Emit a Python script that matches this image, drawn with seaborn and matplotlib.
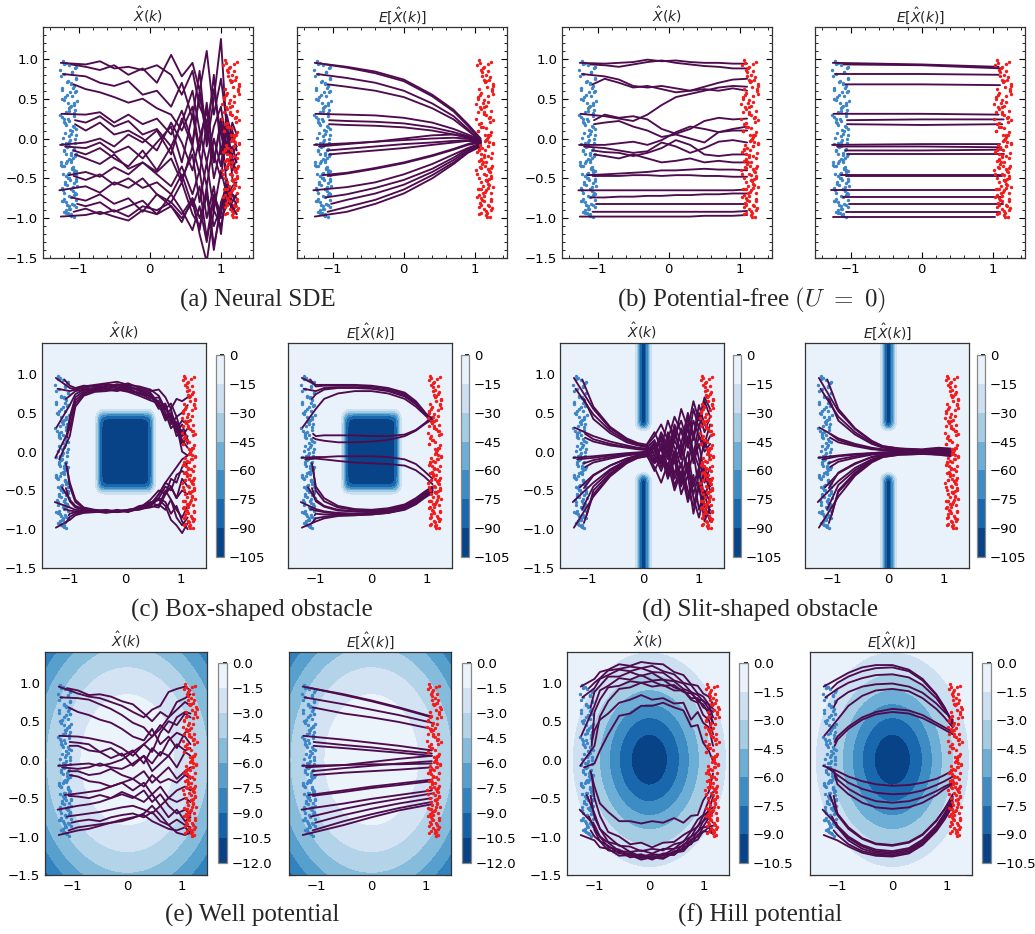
import numpy as np
import pandas as pd
import matplotlib
matplotlib.use("Agg")
import matplotlib.pyplot as plt
from matplotlib.ticker import MultipleLocator
import seaborn as sns

# start points of the 18 runs (same in every panel)
start_x = [-1.25, -1.10, -1.22, -1.07, -1.24, -1.05, -1.05, -1.26, -1.19,
           -1.07, -1.05, -1.14, -1.07, -1.27, -1.10, -1.02, -1.07, -1.25]
start_y = [0.95, 0.93, 0.81, 0.68, 0.31, 0.23, 0.18, -0.08, -0.10,
           -0.15, -0.20, -0.46, -0.47, -0.65, -0.74, -0.82, -0.92, -0.98]

# initial samples (blue) and target samples (red)
blue_x = [-1.22, -1.13, -1.05, -1.18, -1.09, -1.25, -1.03, -1.15, -1.20, -1.07,
          -1.11, -1.24, -1.04, -1.16, -1.08, -1.21, -1.12, -1.06, -1.19, -1.14,
          -1.02, -1.17, -1.10, -1.23, -1.05, -1.13, -1.26, -1.08, -1.15, -1.03,
          -1.19, -1.11, -1.06, -1.22, -1.09, -1.14, -1.04, -1.18, -1.12, -1.07,
          -1.24, -1.10, -1.16, -1.05, -1.20, -1.13, -1.03, -1.17, -1.08, -1.21,
          -1.11, -1.06, -1.25, -1.14, -1.09, -1.18, -1.04, -1.12, -1.22, -1.07,
          -1.15, -1.02, -1.19, -1.10, -1.16, -1.05, -1.23, -1.13, -1.08, -1.20,
          -1.04, -1.17, -1.11, -1.06, -1.24, -1.14, -1.09, -1.21, -1.03, -1.12,
          -1.18, -1.07, -1.15, -1.10, -1.26, -1.05, -1.13, -1.19, -1.08, -1.16,
          -1.04, -1.22, -1.11, -1.06, -1.17, -1.09, -1.14, -1.20, -1.03, -1.12,
          -1.21, -1.09, -1.16, -1.04, -1.23, -1.12, -1.07, -1.18, -1.14, -1.05,
          -1.20, -1.10, -1.25, -1.08, -1.15, -1.03, -1.19, -1.11, -1.06, -1.22,
          -1.13, -1.17, -1.04, -1.24, -1.09, -1.15, -1.07, -1.20, -1.12, -1.05,
          -1.18, -1.10, -1.23, -1.06, -1.14, -1.08, -1.21, -1.03, -1.16, -1.11]
blue_y = [0.97, 0.92, 0.88, 0.95, 0.84, 0.78, 0.90, 0.72, 0.81, 0.66,
          0.69, 0.61, 0.75, 0.55, 0.63, 0.48, 0.58, 0.44, 0.52, 0.38,
          0.47, 0.33, 0.41, 0.27, 0.36, 0.22, 0.30, 0.16, 0.25, 0.12,
          0.19, 0.06, 0.14, 0.01, 0.09, -0.04, 0.04, -0.09, -0.02, -0.13,
          -0.07, -0.18, -0.11, -0.22, -0.16, -0.26, -0.20, -0.31, -0.24, -0.35,
          -0.29, -0.39, -0.33, -0.43, -0.37, -0.47, -0.41, -0.52, -0.45, -0.56,
          -0.50, -0.60, -0.54, -0.64, -0.58, -0.68, -0.62, -0.72, -0.66, -0.76,
          -0.70, -0.80, -0.74, -0.84, -0.78, -0.88, -0.82, -0.92, -0.86, -0.96,
          -0.90, -0.99, -0.94, -0.97, 0.86, 0.59, 0.35, 0.07, -0.15, -0.28,
          -0.46, -0.65, 0.70, 0.42, -0.05, -0.38, -0.10, 0.21, -0.53, -0.88,
          0.93, 0.83, 0.71, 0.60, 0.50, 0.39, 0.28, 0.17, 0.03, -0.06,
          -0.14, -0.21, -0.30, -0.36, -0.44, -0.51, -0.57, -0.63, -0.71, -0.79,
          -0.85, -0.93, 0.76, 0.64, 0.53, 0.45, 0.32, 0.24, 0.11, -0.01,
          -0.19, -0.27, -0.34, -0.42, -0.49, -0.61, -0.69, -0.77, -0.83, -0.95]
red_x = [1.05, 1.18, 1.12, 1.23, 1.08, 1.15, 1.03, 1.20, 1.10, 1.25,
         1.14, 1.06, 1.21, 1.09, 1.17, 1.04, 1.24, 1.11, 1.19, 1.07,
         1.13, 1.22, 1.02, 1.16, 1.09, 1.26, 1.12, 1.05, 1.20, 1.15,
         1.08, 1.23, 1.11, 1.18, 1.04, 1.14, 1.21, 1.07, 1.17, 1.10,
         1.25, 1.03, 1.19, 1.13, 1.06, 1.22, 1.09, 1.16, 1.12, 1.24,
         1.05, 1.18, 1.10, 1.21, 1.07, 1.15, 1.02, 1.20, 1.13, 1.08,
         1.23, 1.11, 1.17, 1.04, 1.19, 1.14, 1.25, 1.06, 1.16, 1.09,
         1.22, 1.12, 1.03, 1.18, 1.10, 1.24, 1.07, 1.15, 1.20, 1.05,
         1.13, 1.21, 1.08, 1.17, 1.11, 1.26, 1.04, 1.19, 1.14, 1.09,
         1.23, 1.06, 1.16, 1.12, 1.20, 1.08, 1.18, 1.02, 1.15, 1.22,
         1.07, 1.19, 1.12, 1.24, 1.04, 1.16, 1.21, 1.09, 1.14, 1.25,
         1.06, 1.18, 1.11, 1.22, 1.03, 1.15, 1.20, 1.08, 1.13, 1.23,
         1.05, 1.17, 1.10, 1.26, 1.07, 1.19, 1.12, 1.21, 1.04, 1.16,
         1.24, 1.09, 1.14, 1.20, 1.06, 1.18, 1.11, 1.23, 1.08, 1.15]
red_y = [0.98, 0.94, 0.90, 0.96, 0.86, 0.80, 0.92, 0.74, 0.83, 0.68,
         0.71, 0.62, 0.77, 0.57, 0.65, 0.50, 0.60, 0.45, 0.54, 0.40,
         0.48, 0.34, 0.43, 0.29, 0.37, 0.23, 0.31, 0.18, 0.26, 0.13,
         0.20, 0.08, 0.15, 0.02, 0.10, -0.03, 0.05, -0.08, -0.01, -0.12,
         -0.06, -0.17, -0.10, -0.21, -0.15, -0.25, -0.19, -0.30, -0.23, -0.34,
         -0.28, -0.38, -0.32, -0.42, -0.36, -0.46, -0.40, -0.51, -0.44, -0.55,
         -0.49, -0.59, -0.53, -0.63, -0.57, -0.67, -0.61, -0.71, -0.65, -0.75,
         -0.69, -0.79, -0.73, -0.83, -0.77, -0.87, -0.81, -0.91, -0.85, -0.95,
         -0.89, -0.98, -0.93, -0.99, 0.88, 0.56, 0.33, 0.05, -0.14, -0.27,
         -0.47, -0.64, 0.72, 0.39, -0.04, -0.37, -0.09, 0.24, -0.52, -0.90,
         0.95, 0.85, 0.73, 0.62, 0.52, 0.41, 0.27, 0.15, 0.04, -0.07,
         -0.13, -0.22, -0.29, -0.37, -0.45, -0.52, -0.58, -0.64, -0.72, -0.78,
         -0.86, -0.94, 0.78, 0.66, 0.55, 0.46, 0.33, 0.21, 0.10, -0.02,
         -0.18, -0.26, -0.35, -0.41, -0.50, -0.62, -0.68, -0.76, -0.84, -0.96]

# (a) neural SDE, sampled runs
neural_grid = [-0.9, -0.7, -0.5, -0.3, -0.1, 0.1, 0.3, 0.45, 0.6, 0.7, 0.8, 0.9, 1.0, 1.08, 1.16, 1.22]
neural_paths = [
    [0.93, 0.97, 0.88, 0.90, 0.86, 0.92, 0.80, 0.55, 0.85, 0.40, 0.20, 0.62, 0.05, -0.20, 0.10, -0.15],
    [0.90, 0.86, 0.92, 0.80, 0.88, 0.70, 1.05, 0.78, 0.95, 0.60, 1.10, 0.30, 0.75, 0.20, -0.30, -0.20],
    [0.78, 0.70, 0.66, 0.72, 0.55, 0.60, 0.40, 0.70, 0.25, 0.85, -0.10, 0.50, 1.25, 0.10, -0.40, -0.25],
    [0.62, 0.58, 0.52, 0.45, 0.50, 0.38, 0.30, 0.10, 0.40, -0.15, 0.45, -0.30, 0.20, -0.60, -0.70, -0.85],
    [0.30, 0.33, 0.20, 0.30, 0.18, 0.25, 0.05, 0.35, -0.05, 0.55, 0.00, 0.80, -0.20, 0.30, 0.00, -0.10],
    [0.20, 0.28, 0.15, 0.22, 0.05, 0.12, -0.10, 0.20, 0.60, 0.10, -0.30, 0.15, 0.40, -0.10, 0.20, 0.05],
    [0.10, 0.20, 0.05, 0.10, 0.00, -0.15, 0.20, -0.05, -0.40, 0.00, 0.35, -0.20, -0.50, 0.10, -0.30, -0.40],
    [-0.05, 0.00, -0.10, 0.05, -0.05, 0.10, -0.20, 0.25, -0.10, 0.60, 0.15, -0.30, 0.25, -0.20, -0.10, -0.30],
    [-0.12, -0.05, -0.18, -0.10, -0.25, -0.05, 0.15, -0.30, 0.30, -0.20, -0.60, 0.00, -0.35, 0.25, -0.50, -0.60],
    [-0.20, -0.12, -0.25, -0.35, -0.15, -0.40, -0.10, -0.50, -0.20, -0.80, -0.30, -0.90, -0.40, -0.70, -0.90, -0.80],
    [-0.25, -0.32, -0.20, -0.38, -0.30, -0.45, -0.60, -0.35, -0.70, -0.40, -1.00, -0.60, -1.20, -0.55, -0.85, -0.95],
    [-0.42, -0.48, -0.36, -0.45, -0.30, -0.42, -0.25, -0.55, -0.10, -0.45, 0.20, -0.50, -0.10, -0.40, -0.20, -0.10],
    [-0.52, -0.45, -0.58, -0.50, -0.62, -0.55, -0.70, -0.45, -0.85, -0.60, -1.25, -0.70, -0.95, -0.50, -0.80, -0.70],
    [-0.60, -0.68, -0.55, -0.62, -0.50, -0.70, -0.80, -0.55, -0.95, -1.10, -0.70, -1.40, -0.80, -0.60, -0.90, -0.85],
    [-0.78, -0.70, -0.82, -0.75, -0.92, -0.70, -0.85, -1.05, -0.75, -1.20, -1.55, -0.90, -1.10, -0.75, -0.60, -0.55],
    [-0.85, -0.80, -0.92, -0.85, -0.78, -0.95, -0.70, -0.90, -1.15, -0.85, -1.30, -0.75, -1.00, -0.85, -0.70, -0.75],
    [-0.88, -0.95, -0.90, -0.98, -0.85, -0.90, -0.80, -0.95, -0.75, -1.00, -0.70, -1.10, -0.85, -0.65, -0.90, -0.95],
    [-0.96, -0.92, -0.98, -1.03, -0.90, -0.95, -0.85, -1.00, -0.80, -1.15, -0.60, -1.35, -0.90, -0.70, -0.90, -0.80],
]
# (a) neural SDE, mean runs
neural_mean_grid = [-0.8, -0.4, 0.0, 0.4, 0.7, 0.9, 1.08]
neural_mean_paths = [
    [0.90, 0.84, 0.74, 0.55, 0.36, 0.18, 0.00],
    [0.89, 0.82, 0.72, 0.53, 0.34, 0.16, -0.02],
    [0.76, 0.70, 0.60, 0.44, 0.28, 0.12, -0.04],
    [0.65, 0.60, 0.52, 0.38, 0.24, 0.10, -0.03],
    [0.30, 0.29, 0.26, 0.20, 0.12, 0.05, -0.02],
    [0.22, 0.21, 0.19, 0.14, 0.08, 0.03, -0.04],
    [0.17, 0.16, 0.14, 0.10, 0.05, 0.01, -0.05],
    [-0.06, -0.04, -0.02, 0.00, 0.01, 0.00, -0.05],
    [-0.07, -0.04, 0.00, 0.04, 0.05, 0.02, -0.03],
    [-0.13, -0.10, -0.07, -0.05, -0.03, -0.02, -0.06],
    [-0.18, -0.15, -0.12, -0.08, -0.05, -0.03, -0.07],
    [-0.43, -0.37, -0.30, -0.21, -0.13, -0.07, -0.04],
    [-0.44, -0.38, -0.31, -0.22, -0.14, -0.08, -0.05],
    [-0.61, -0.55, -0.45, -0.32, -0.20, -0.12, -0.06],
    [-0.70, -0.62, -0.52, -0.38, -0.24, -0.13, -0.07],
    [-0.77, -0.69, -0.58, -0.42, -0.27, -0.15, -0.08],
    [-0.86, -0.77, -0.64, -0.46, -0.30, -0.17, -0.09],
    [-0.92, -0.82, -0.69, -0.50, -0.32, -0.18, -0.10],
]

# (b) potential-free, sampled runs
free_grid = [-0.9, -0.7, -0.5, -0.3, -0.1, 0.1, 0.3, 0.5, 0.7, 0.9, 1.1]
free_paths = [
    [0.94, 0.95, 0.96, 0.99, 0.97, 0.98, 0.96, 0.95, 0.95, 0.94, 0.94],
    [0.92, 0.90, 0.93, 0.96, 0.98, 0.95, 0.93, 0.91, 0.90, 0.88, 0.88],
    [0.78, 0.74, 0.66, 0.64, 0.66, 0.63, 0.60, 0.62, 0.60, 0.63, 0.60],
    [0.75, 0.70, 0.64, 0.66, 0.62, 0.58, 0.60, 0.65, 0.70, 0.74, 0.75],
    [0.28, 0.25, 0.22, 0.30, 0.42, 0.52, 0.56, 0.60, 0.64, 0.66, 0.65],
    [0.30, 0.26, 0.28, 0.24, 0.12, 0.06, 0.12, 0.22, 0.26, 0.24, 0.25],
    [0.20, 0.22, 0.15, 0.10, 0.02, 0.05, 0.00, -0.05, 0.08, 0.12, 0.15],
    [-0.08, -0.06, -0.04, -0.08, -0.02, 0.08, 0.15, 0.12, 0.08, 0.10, 0.10],
    [-0.12, -0.15, -0.18, -0.16, -0.05, -0.10, -0.18, -0.12, -0.04, -0.02, -0.05],
    [-0.17, -0.18, -0.22, -0.18, -0.12, -0.02, -0.08, -0.20, -0.22, -0.20, -0.20],
    [-0.22, -0.25, -0.20, -0.25, -0.30, -0.28, -0.25, -0.30, -0.28, -0.30, -0.30],
    [-0.45, -0.44, -0.43, -0.42, -0.40, -0.40, -0.39, -0.38, -0.39, -0.39, -0.40],
    [-0.47, -0.47, -0.46, -0.46, -0.47, -0.46, -0.46, -0.47, -0.47, -0.48, -0.48],
    [-0.65, -0.65, -0.65, -0.65, -0.65, -0.65, -0.65, -0.65, -0.65, -0.65, -0.64],
    [-0.74, -0.73, -0.73, -0.72, -0.72, -0.71, -0.71, -0.70, -0.70, -0.69, -0.69],
    [-0.82, -0.82, -0.82, -0.82, -0.82, -0.82, -0.82, -0.82, -0.82, -0.82, -0.82],
    [-0.92, -0.92, -0.92, -0.92, -0.92, -0.92, -0.92, -0.92, -0.92, -0.92, -0.91],
    [-0.98, -0.98, -0.98, -0.98, -0.98, -0.98, -0.98, -0.97, -0.97, -0.97, -0.96],
]
# (b) potential-free, mean runs: value at x=0 and end point
free_mean_mid_y = [0.93, 0.92, 0.81, 0.68, 0.31, 0.24, 0.17, -0.07, -0.10,
                   -0.15, -0.20, -0.46, -0.47, -0.65, -0.74, -0.82, -0.92, -0.98]
free_mean_end_x = [1.08, 1.12, 1.08, 1.10, 1.08, 1.15, 1.13, 1.10, 1.12,
                   1.14, 1.16, 1.14, 1.12, 1.08, 1.12, 1.14, 1.10, 1.03]
free_mean_end_y = [0.90, 0.88, 0.80, 0.67, 0.30, 0.24, 0.18, -0.07, -0.11,
                   -0.14, -0.20, -0.46, -0.47, -0.65, -0.74, -0.82, -0.92, -0.98]

# (c) box obstacle
box_grid = [-1.0, -0.9, -0.75, -0.55, -0.35, -0.15, 0.05, 0.25, 0.45, 0.6, 0.72, 0.82, 0.92, 1.02, 1.12]
box_paths = [
    [0.82, 0.80, 0.84, 0.86, 0.88, 0.90, 0.86, 0.84, 0.80, 0.72, 0.55, 0.62, 0.45, 0.50, 0.60],
    [0.85, 0.82, 0.85, 0.84, 0.87, 0.85, 0.88, 0.82, 0.78, 0.80, 0.70, 0.55, 0.68, 0.65, 0.70],
    [0.78, 0.80, 0.82, 0.85, 0.83, 0.87, 0.84, 0.80, 0.76, 0.62, 0.40, 0.48, 0.30, 0.40, 0.35],
    [0.72, 0.78, 0.80, 0.82, 0.85, 0.82, 0.85, 0.78, 0.74, 0.55, 0.60, 0.35, 0.45, 0.20, 0.30],
    [0.60, 0.74, 0.80, 0.82, 0.80, 0.85, 0.82, 0.80, 0.70, 0.65, 0.45, 0.55, 0.25, 0.35, 0.15],
    [0.45, 0.70, 0.78, 0.80, 0.84, 0.82, 0.80, 0.76, 0.72, 0.58, 0.62, 0.40, 0.30, 0.10, 0.20],
    [0.40, 0.66, 0.76, 0.79, 0.81, 0.80, 0.78, 0.75, 0.68, 0.70, 0.50, 0.30, 0.38, 0.15, 0.05],
    [0.30, 0.62, 0.74, 0.78, 0.80, 0.78, 0.82, 0.74, 0.72, 0.60, 0.55, 0.45, 0.20, 0.28, 0.10],
    [0.20, 0.58, 0.72, 0.77, 0.78, 0.80, 0.77, 0.72, 0.66, 0.62, 0.42, 0.50, 0.35, 0.00, -0.05],
    [-0.40, -0.62, -0.72, -0.75, -0.76, -0.78, -0.76, -0.74, -0.70, -0.55, -0.40, -0.30, -0.20, -0.10, -0.05],
    [-0.45, -0.65, -0.73, -0.76, -0.78, -0.76, -0.78, -0.72, -0.66, -0.60, -0.45, -0.50, -0.30, -0.25, -0.30],
    [-0.62, -0.70, -0.74, -0.77, -0.75, -0.77, -0.75, -0.73, -0.62, -0.50, -0.55, -0.35, -0.40, -0.20, -0.15],
    [-0.64, -0.72, -0.75, -0.76, -0.78, -0.75, -0.77, -0.70, -0.68, -0.55, -0.40, -0.45, -0.60, -0.50, -0.55],
    [-0.72, -0.75, -0.76, -0.78, -0.76, -0.78, -0.76, -0.72, -0.65, -0.70, -0.50, -0.62, -0.75, -0.85, -0.70],
    [-0.76, -0.77, -0.78, -0.77, -0.79, -0.77, -0.75, -0.73, -0.70, -0.60, -0.65, -0.80, -0.70, -0.90, -1.00],
    [-0.80, -0.78, -0.77, -0.78, -0.77, -0.76, -0.77, -0.74, -0.72, -0.68, -0.75, -0.62, -0.85, -0.95, -0.85],
    [-0.84, -0.80, -0.78, -0.77, -0.78, -0.77, -0.76, -0.75, -0.70, -0.72, -0.55, -0.45, -0.60, -0.35, -0.45],
    [-0.88, -0.82, -0.79, -0.78, -0.76, -0.78, -0.75, -0.74, -0.68, -0.62, -0.70, -0.88, -0.95, -1.05, -0.92],
]
box_mean_grid = [-1.0, -0.85, -0.6, -0.3, 0.0, 0.3, 0.6, 0.8, 0.95, 1.1]
box_mean_paths = [
    [0.86, 0.86, 0.86, 0.86, 0.85, 0.82, 0.76, 0.65, 0.52, 0.35],
    [0.84, 0.85, 0.85, 0.85, 0.84, 0.81, 0.74, 0.63, 0.50, 0.38],
    [0.78, 0.82, 0.83, 0.83, 0.82, 0.79, 0.72, 0.62, 0.50, 0.40],
    [0.74, 0.80, 0.82, 0.82, 0.81, 0.78, 0.71, 0.61, 0.51, 0.42],
    [0.55, 0.68, 0.75, 0.78, 0.78, 0.75, 0.68, 0.58, 0.48, 0.38],
    [0.20, 0.21, 0.21, 0.21, 0.20, 0.20, 0.22, 0.28, 0.36, 0.45],
    [0.16, 0.14, 0.12, 0.12, 0.13, 0.15, 0.20, 0.27, 0.35, 0.42],
    [-0.07, -0.07, -0.06, -0.06, -0.06, -0.07, -0.10, -0.16, -0.25, -0.35],
    [-0.09, -0.10, -0.12, -0.14, -0.15, -0.16, -0.18, -0.24, -0.32, -0.42],
    [-0.45, -0.60, -0.70, -0.74, -0.75, -0.73, -0.68, -0.60, -0.52, -0.45],
    [-0.50, -0.64, -0.72, -0.75, -0.76, -0.74, -0.69, -0.61, -0.53, -0.46],
    [-0.62, -0.70, -0.75, -0.77, -0.77, -0.75, -0.70, -0.62, -0.55, -0.48],
    [-0.64, -0.71, -0.76, -0.77, -0.77, -0.75, -0.70, -0.63, -0.56, -0.50],
    [-0.74, -0.77, -0.79, -0.80, -0.79, -0.77, -0.72, -0.65, -0.57, -0.48],
    [-0.76, -0.78, -0.80, -0.80, -0.79, -0.77, -0.72, -0.64, -0.56, -0.47],
    [-0.80, -0.81, -0.81, -0.81, -0.80, -0.78, -0.73, -0.66, -0.58, -0.50],
    [-0.86, -0.84, -0.82, -0.82, -0.81, -0.79, -0.74, -0.67, -0.59, -0.52],
    [-0.90, -0.86, -0.83, -0.82, -0.81, -0.79, -0.75, -0.68, -0.60, -0.53],
]

# (d) slit obstacle
slit_grid = [-0.9, -0.6, -0.3, -0.1, 0.05, 0.2, 0.32, 0.44, 0.56, 0.68, 0.8, 0.9, 1.0, 1.1, 1.2]
slit_paths = [
    [0.55, 0.30, 0.16, 0.10, 0.08, 0.25, 0.05, 0.40, 0.15, 0.55, 0.30, 0.65, 0.40, 0.70, 0.55],
    [0.58, 0.32, 0.17, 0.11, 0.09, -0.05, 0.20, 0.00, 0.35, 0.10, 0.50, 0.20, 0.60, 0.35, 0.25],
    [0.48, 0.27, 0.14, 0.09, 0.07, 0.20, 0.35, 0.15, 0.45, 0.25, 0.05, 0.40, 0.20, 0.10, 0.35],
    [0.42, 0.24, 0.12, 0.08, 0.06, -0.10, 0.10, -0.20, 0.15, -0.05, 0.30, 0.00, -0.20, 0.15, -0.10],
    [0.20, 0.13, 0.08, 0.05, 0.04, 0.15, -0.15, 0.10, -0.30, 0.05, -0.20, 0.25, -0.10, -0.40, -0.20],
    [0.16, 0.10, 0.06, 0.04, 0.03, 0.00, 0.25, 0.05, 0.30, -0.10, 0.45, 0.15, 0.50, 0.25, 0.45],
    [0.13, 0.08, 0.05, 0.03, 0.02, -0.15, -0.05, -0.30, 0.00, -0.40, -0.15, -0.55, -0.30, -0.20, -0.45],
    [-0.06, -0.04, -0.02, -0.01, 0.00, 0.12, -0.10, 0.20, -0.05, 0.30, 0.10, -0.10, 0.20, 0.00, 0.10],
    [-0.08, -0.05, -0.03, -0.02, -0.01, -0.12, 0.05, -0.25, -0.05, -0.35, 0.00, -0.45, -0.20, -0.60, -0.35],
    [-0.11, -0.07, -0.04, -0.03, -0.02, 0.05, -0.20, 0.00, -0.45, -0.15, -0.60, -0.30, -0.75, -0.50, -0.65],
    [-0.14, -0.09, -0.05, -0.03, -0.02, -0.25, -0.05, -0.35, -0.10, -0.55, -0.30, -0.80, -0.45, -0.85, -0.75],
    [-0.30, -0.18, -0.09, -0.05, -0.03, 0.10, -0.15, 0.25, 0.05, -0.20, 0.20, -0.05, 0.35, 0.05, 0.20],
    [-0.31, -0.18, -0.09, -0.05, -0.04, -0.20, -0.40, -0.15, -0.50, -0.25, -0.65, -0.40, -0.25, -0.70, -0.90],
    [-0.40, -0.23, -0.11, -0.06, -0.04, 0.00, 0.15, -0.10, 0.20, 0.40, 0.10, 0.55, 0.30, 0.65, 0.45],
    [-0.45, -0.25, -0.12, -0.07, -0.05, -0.15, 0.05, -0.30, -0.10, -0.45, -0.20, -0.60, -0.85, -0.55, -0.80],
    [-0.50, -0.28, -0.13, -0.07, -0.05, 0.08, -0.10, 0.15, -0.15, 0.10, -0.30, 0.00, -0.50, -0.25, -0.40],
    [-0.55, -0.30, -0.14, -0.08, -0.06, -0.05, -0.25, 0.00, -0.35, -0.15, -0.50, -0.70, -0.40, -0.90, -0.70],
    [-0.58, -0.32, -0.15, -0.08, -0.06, 0.05, 0.20, -0.05, 0.25, 0.00, 0.35, -0.15, 0.10, -0.30, -0.50],
]
slit_mean_grid = [-0.9, -0.6, -0.3, -0.1, 0.2, 0.6, 0.9, 1.12]
slit_mean_paths = [
    [0.52, 0.29, 0.13, 0.07, 0.04, 0.03, 0.05, 0.04],
    [0.55, 0.30, 0.14, 0.07, 0.04, 0.02, 0.03, 0.01],
    [0.45, 0.25, 0.11, 0.06, 0.03, 0.02, 0.04, 0.03],
    [0.40, 0.22, 0.10, 0.05, 0.03, 0.01, 0.02, 0.00],
    [0.17, 0.10, 0.05, 0.03, 0.02, 0.01, 0.00, 0.02],
    [0.15, 0.08, 0.04, 0.02, 0.01, 0.00, 0.02, -0.01],
    [0.12, 0.07, 0.03, 0.02, 0.01, 0.00, -0.01, 0.01],
    [-0.05, -0.03, -0.02, -0.01, 0.00, 0.00, 0.01, -0.02],
    [-0.06, -0.04, -0.02, -0.01, -0.01, 0.00, -0.02, 0.00],
    [-0.10, -0.06, -0.03, -0.02, -0.01, -0.01, 0.00, -0.03],
    [-0.13, -0.08, -0.04, -0.02, -0.01, -0.01, -0.02, -0.04],
    [-0.28, -0.16, -0.07, -0.04, -0.02, -0.01, -0.03, -0.02],
    [-0.27, -0.15, -0.07, -0.04, -0.02, -0.02, -0.01, -0.04],
    [-0.38, -0.21, -0.10, -0.05, -0.03, -0.02, -0.03, -0.05],
    [-0.43, -0.24, -0.11, -0.06, -0.03, -0.02, -0.04, -0.03],
    [-0.50, -0.27, -0.12, -0.06, -0.03, -0.02, -0.03, -0.05],
    [-0.52, -0.29, -0.13, -0.07, -0.04, -0.03, -0.02, -0.04],
    [-0.58, -0.31, -0.14, -0.07, -0.04, -0.03, -0.04, -0.06],
]

# (e) well potential
well_grid = [-0.9, -0.7, -0.5, -0.3, -0.1, 0.1, 0.3, 0.45, 0.6, 0.75, 0.9, 1.05, 1.15]
well_paths = [
    [0.86, 0.82, 0.80, 0.75, 0.70, 0.62, 0.55, 0.65, 0.70, 0.88, 0.92, 0.95, 0.90],
    [0.90, 0.84, 0.85, 0.82, 0.76, 0.72, 0.60, 0.50, 0.62, 0.55, 0.75, 0.80, 0.85],
    [0.80, 0.78, 0.72, 0.66, 0.58, 0.48, 0.42, 0.30, 0.45, 0.35, 0.55, 0.62, 0.60],
    [0.62, 0.58, 0.52, 0.48, 0.40, 0.30, 0.25, 0.40, 0.20, 0.30, 0.15, 0.35, 0.40],
    [0.30, 0.28, 0.25, 0.22, 0.15, 0.05, 0.20, 0.10, 0.35, 0.50, 0.45, 0.60, 0.55],
    [0.22, 0.20, 0.10, 0.15, 0.05, 0.12, -0.05, 0.15, 0.05, 0.25, 0.35, 0.30, 0.20],
    [0.18, 0.12, 0.10, 0.02, 0.08, -0.08, 0.05, -0.15, -0.05, 0.05, -0.10, 0.10, 0.05],
    [-0.06, -0.05, -0.08, -0.05, 0.00, 0.10, 0.20, 0.30, 0.40, 0.55, 0.65, 0.75, 0.70],
    [-0.12, -0.10, -0.05, -0.10, -0.12, -0.05, 0.05, -0.05, 0.10, 0.05, 0.20, 0.12, 0.15],
    [-0.15, -0.20, -0.18, -0.12, -0.20, -0.25, -0.15, -0.30, -0.20, -0.10, -0.25, -0.15, -0.10],
    [-0.22, -0.28, -0.30, -0.35, -0.30, -0.40, -0.30, -0.45, -0.35, -0.50, -0.40, -0.35, -0.40],
    [-0.44, -0.42, -0.40, -0.35, -0.30, -0.25, -0.35, -0.20, -0.30, -0.25, -0.30, -0.20, -0.25],
    [-0.48, -0.50, -0.46, -0.50, -0.42, -0.48, -0.55, -0.45, -0.60, -0.50, -0.55, -0.50, -0.55],
    [-0.60, -0.58, -0.55, -0.50, -0.45, -0.50, -0.40, -0.55, -0.45, -0.60, -0.70, -0.65, -0.70],
    [-0.72, -0.70, -0.68, -0.65, -0.62, -0.60, -0.65, -0.70, -0.60, -0.75, -0.65, -0.80, -0.75],
    [-0.80, -0.78, -0.80, -0.75, -0.72, -0.70, -0.75, -0.68, -0.80, -0.85, -0.78, -0.85, -0.88],
    [-0.88, -0.86, -0.84, -0.82, -0.78, -0.75, -0.72, -0.80, -0.85, -0.90, -0.92, -0.88, -0.95],
    [-0.92, -0.90, -0.86, -0.82, -0.80, -0.76, -0.70, -0.60, -0.72, -0.85, -0.95, -0.98, -0.95],
]
well_mean_grid = [-0.5, 0.0, 0.5, 1.1]
well_mean_paths = [
    [0.85, 0.77, 0.68, 0.56], [0.84, 0.76, 0.67, 0.55], [0.72, 0.65, 0.58, 0.48],
    [0.60, 0.55, 0.49, 0.40], [0.26, 0.22, 0.18, 0.12], [0.19, 0.16, 0.12, 0.08],
    [0.15, 0.12, 0.09, 0.05], [-0.07, -0.06, -0.06, -0.05], [-0.07, -0.03, 0.01, 0.05],
    [-0.11, -0.08, -0.05, -0.02], [-0.17, -0.15, -0.13, -0.10], [-0.40, -0.35, -0.31, -0.26],
    [-0.42, -0.37, -0.33, -0.28], [-0.57, -0.51, -0.46, -0.40], [-0.64, -0.57, -0.51, -0.44],
    [-0.72, -0.64, -0.57, -0.50], [-0.80, -0.71, -0.63, -0.55], [-0.85, -0.75, -0.66, -0.58],
]

# (f) hill potential
hill_grid = [-1.0, -0.9, -0.75, -0.55, -0.35, -0.15, 0.05, 0.25, 0.45, 0.62, 0.76, 0.88, 0.98, 1.08, 1.16]
hill_paths = [
    [1.05, 1.14, 1.17, 1.24, 1.22, 1.27, 1.25, 1.24, 1.14, 1.10, 0.98, 0.96, 0.86, 0.82, 0.72],
    [1.00, 1.06, 1.16, 1.18, 1.21, 1.19, 1.22, 1.15, 1.11, 1.00, 0.97, 0.86, 0.82, 0.72, 0.66],
    [0.93, 1.05, 1.10, 1.17, 1.15, 1.19, 1.14, 1.13, 1.03, 0.99, 0.88, 0.84, 0.76, 0.72, 0.55],
    [0.88, 0.96, 1.08, 1.08, 1.14, 1.09, 1.13, 1.04, 1.02, 0.92, 0.88, 0.76, 0.72, 0.60, 0.47],
    [0.70, 0.90, 0.96, 1.06, 1.04, 1.10, 1.03, 1.04, 0.94, 0.90, 0.78, 0.74, 0.58, 0.52, 0.33],
    [0.38, 0.52, 0.60, 0.74, 0.78, 0.84, 0.78, 0.80, 0.73, 0.74, 0.52, 0.62, 0.48, 0.42, 0.18],
    [0.62, 0.78, 0.94, 0.96, 1.02, 1.00, 1.02, 0.96, 0.97, 0.88, 0.86, 0.78, 0.77, 0.66, 0.62],
    [0.18, 0.56, 0.76, 0.92, 0.94, 1.00, 0.95, 0.97, 0.90, 0.90, 0.80, 0.80, 0.68, 0.64, 0.48],
    [-0.05, 0.12, 0.33, 0.57, 0.60, 0.70, 0.70, 0.74, 0.68, 0.64, 0.43, 0.45, 0.22, 0.12, -0.02],
    [-0.35, -0.57, -0.68, -0.80, -0.80, -0.83, -0.80, -0.82, -0.76, -0.82, -0.73, -0.72, -0.53, -0.42, -0.18],
    [-0.50, -0.73, -0.94, -1.00, -1.10, -1.08, -1.14, -1.08, -1.07, -0.98, -0.92, -0.78, -0.72, -0.53, -0.42],
    [-0.70, -0.90, -1.00, -1.12, -1.13, -1.19, -1.16, -1.18, -1.10, -1.07, -0.93, -0.87, -0.73, -0.67, -0.48],
    [-0.75, -0.90, -1.07, -1.11, -1.20, -1.18, -1.22, -1.16, -1.16, -1.06, -1.00, -0.86, -0.80, -0.66, -0.62],
    [-0.85, -1.00, -1.08, -1.19, -1.20, -1.26, -1.23, -1.24, -1.16, -1.12, -1.00, -0.94, -0.80, -0.74, -0.68],
    [-0.90, -1.00, -1.14, -1.17, -1.25, -1.23, -1.28, -1.22, -1.22, -1.10, -1.06, -0.93, -0.87, -0.76, -0.82],
    [-0.92, -1.06, -1.12, -1.22, -1.22, -1.28, -1.25, -1.27, -1.19, -1.17, -1.04, -1.00, -0.88, -0.87, -0.86],
    [-1.00, -1.06, -1.18, -1.20, -1.27, -1.25, -1.30, -1.24, -1.24, -1.14, -1.10, -0.98, -0.94, -0.88, -0.97],
    [-1.05, -1.14, -1.16, -1.25, -1.24, -1.30, -1.27, -1.29, -1.21, -1.19, -1.08, -1.04, -0.93, -0.94, -0.96],
]
hill_mean_grid = [-1.0, -0.8, -0.55, -0.3, 0.0, 0.3, 0.55, 0.8, 0.95, 1.1]
hill_mean_paths = [
    [1.05, 1.13, 1.20, 1.23, 1.23, 1.17, 1.05, 0.85, 0.68, 0.45],
    [1.00, 1.08, 1.15, 1.19, 1.20, 1.15, 1.03, 0.84, 0.68, 0.48],
    [0.92, 1.00, 1.06, 1.10, 1.11, 1.07, 0.97, 0.80, 0.65, 0.50],
    [0.78, 0.88, 0.95, 0.98, 0.99, 0.95, 0.87, 0.73, 0.62, 0.52],
    [0.52, 0.70, 0.83, 0.90, 0.92, 0.89, 0.80, 0.66, 0.55, 0.42],
    [0.30, 0.43, 0.55, 0.62, 0.66, 0.64, 0.58, 0.48, 0.42, 0.36],
    [0.26, 0.40, 0.52, 0.59, 0.62, 0.60, 0.54, 0.45, 0.39, 0.33],
    [-0.15, -0.22, -0.28, -0.32, -0.34, -0.33, -0.30, -0.25, -0.20, -0.14],
    [-0.20, -0.30, -0.38, -0.43, -0.45, -0.44, -0.40, -0.33, -0.28, -0.22],
    [-0.26, -0.38, -0.48, -0.54, -0.56, -0.54, -0.49, -0.41, -0.35, -0.30],
    [-0.32, -0.45, -0.56, -0.62, -0.64, -0.62, -0.56, -0.46, -0.38, -0.32],
    [-0.72, -0.90, -1.03, -1.10, -1.12, -1.08, -0.98, -0.80, -0.65, -0.45],
    [-0.70, -0.88, -1.02, -1.09, -1.11, -1.07, -0.97, -0.79, -0.64, -0.48],
    [-0.86, -1.00, -1.11, -1.17, -1.19, -1.15, -1.04, -0.86, -0.70, -0.50],
    [-0.88, -1.02, -1.13, -1.19, -1.21, -1.17, -1.06, -0.88, -0.72, -0.52],
    [-0.88, -1.05, -1.16, -1.21, -1.23, -1.19, -1.08, -0.90, -0.74, -0.55],
    [-0.98, -1.10, -1.19, -1.23, -1.25, -1.21, -1.10, -0.92, -0.76, -0.58],
    [-1.05, -1.13, -1.21, -1.25, -1.26, -1.22, -1.11, -0.93, -0.78, -0.60],
]

# potential shapes
BOX_DEPTH, BOX_HALF, BOX_EDGE = 100.0, 0.5, 0.035
SLIT_DEPTH, SLIT_WIDTH, SLIT_GAP, SLIT_EDGE = 100.0, 0.085, 0.30, 0.025
WELL_K = 2.1
HILL_DEPTH, HILL_WIDTH = 10.0, 0.72

obstacle_levels = np.arange(-105, 1, 15)
smooth_levels = np.arange(-12, 0.01, 1.5)
hill_levels = np.arange(-10.5, 0.01, 1.5)

TRAJ_COLOR = "#4e0c4e"
BLUE = "#3d85c6"
RED = "#f21c1c"
XLIM = (-1.5, 1.45)
YLIM = (-1.5, 1.4)


def sigmoid(u):
    return 1.0 / (1.0 + np.exp(-u))


def box_potential(x, y):
    return -BOX_DEPTH * sigmoid((BOX_HALF - np.abs(x)) / BOX_EDGE) * sigmoid((BOX_HALF - np.abs(y)) / BOX_EDGE)


def slit_potential(x, y):
    return -SLIT_DEPTH * np.exp(-x ** 2 / (2 * SLIT_WIDTH ** 2)) * sigmoid((np.abs(y) - SLIT_GAP) / SLIT_EDGE)


def well_potential(x, y):
    return -WELL_K * (x ** 2 + y ** 2)


def hill_potential(x, y):
    return -HILL_DEPTH * np.exp(-(x ** 2 + y ** 2) / (2 * HILL_WIDTH ** 2))


def runs_frame(grid, paths):
    # grid can be shared or one per run
    rows = []
    for i, ys in enumerate(paths):
        g = grid[i] if isinstance(grid[0], list) else grid
        rows.append((i, start_x[i], start_y[i]))
        for gx, gy in zip(g, ys):
            rows.append((i, gx, gy))
    return pd.DataFrame(rows, columns=["run", "x", "y"])


sns.set_theme(style="ticks")
plt.rcParams["font.family"] = ["DejaVu Sans"]
plt.rcParams.update({
    "xtick.direction": "in", "ytick.direction": "in",
    "xtick.top": True, "ytick.right": True,
    "xtick.labelsize": 9.5, "ytick.labelsize": 9.5,
    "xtick.color": "black", "ytick.color": "black",
    "axes.edgecolor": "#333333", "axes.linewidth": 0.9,
})

W, H = 1035, 934
fig = plt.figure(figsize=(W / 100, H / 100), dpi=100)


def place(left, top, width, height):
    return fig.add_axes([left / W, 1 - (top + height) / H, width / W, height / H])


GX, GY = np.meshgrid(np.linspace(XLIM[0], XLIM[1], 400), np.linspace(YLIM[0], YLIM[1], 400))


def draw_panel(ax, runs, title, show_y, field=None, levels=None, cax=None):
    if field is not None:
        cs = ax.contourf(GX, GY, field(GX, GY), levels=levels, cmap="Blues_r")
        cb = fig.colorbar(cs, cax=cax)
        cb.outline.set_edgecolor("#888888")
        cb.minorticks_on()
        cax.tick_params(direction="in", which="both", labelsize=9.5, length=3, colors="black")
        cax.tick_params(which="minor", length=1.8)
    sns.scatterplot(x=blue_x, y=blue_y, color=BLUE, s=6, linewidth=0, ax=ax, zorder=2)
    sns.lineplot(data=runs, x="x", y="y", units="run", estimator=None, sort=False,
                 color=TRAJ_COLOR, linewidth=1.35, ax=ax, zorder=3)
    sns.scatterplot(x=red_x, y=red_y, color=RED, s=6, linewidth=0, ax=ax, zorder=4)
    ax.set_xlim(*XLIM)
    ax.set_ylim(*YLIM)
    ax.xaxis.set_major_locator(MultipleLocator(1))
    ax.xaxis.set_minor_locator(MultipleLocator(0.2))
    ax.yaxis.set_major_locator(MultipleLocator(0.5))
    ax.yaxis.set_minor_locator(MultipleLocator(0.1))
    ax.tick_params(which="both", direction="in", top=True, right=True,
                   bottom=True, left=True, colors="black")
    ax.tick_params(which="major", length=4, width=0.8)
    ax.tick_params(which="minor", length=2.2, width=0.6)
    ax.set_xlabel("")
    ax.set_ylabel("")
    if not show_y:
        ax.tick_params(labelleft=False)
    ax.set_title(title, fontsize=10, pad=4)


T_X = r"$\hat{X}(k)$"
T_E = r"$E[\hat{X}(k)]$"

# row 1
row1 = [place(l, 27, 210, 231) for l in (43, 297, 562, 815)]
draw_panel(row1[0], runs_frame(neural_grid, neural_paths), T_X, True)
draw_panel(row1[1], runs_frame(neural_mean_grid, neural_mean_paths), T_E, False)
draw_panel(row1[2], runs_frame(free_grid, free_paths), T_X, True)
free_mean_grid = [[0.0, ex] for ex in free_mean_end_x]
free_mean_paths = [[m, e] for m, e in zip(free_mean_mid_y, free_mean_end_y)]
draw_panel(row1[3], runs_frame(free_mean_grid, free_mean_paths), T_E, False)

# row 2
row2 = [place(l, 343, 164, 225) for l in (42, 288, 560, 805)]
cb2 = [place(l, 355, 8, 202) for l in (216, 461, 733, 977)]
draw_panel(row2[0], runs_frame(box_grid, box_paths), T_X, True, box_potential, obstacle_levels, cb2[0])
draw_panel(row2[1], runs_frame(box_mean_grid, box_mean_paths), T_E, False, box_potential, obstacle_levels, cb2[1])
draw_panel(row2[2], runs_frame(slit_grid, slit_paths), T_X, True, slit_potential, obstacle_levels, cb2[2])
draw_panel(row2[3], runs_frame(slit_mean_grid, slit_mean_paths), T_E, False, slit_potential, obstacle_levels, cb2[3])

# row 3
row3 = [place(l, 652, 162, 223) for l in (45, 289, 567, 810)]
cb3 = [place(l, 663, 9, 200) for l in (218, 462, 739, 982)]
draw_panel(row3[0], runs_frame(well_grid, well_paths), T_X, True, well_potential, smooth_levels, cb3[0])
draw_panel(row3[1], runs_frame(well_mean_grid, well_mean_paths), T_E, False, well_potential, smooth_levels, cb3[1])
draw_panel(row3[2], runs_frame(hill_grid, hill_paths), T_X, True, hill_potential, hill_levels, cb3[2])
draw_panel(row3[3], runs_frame(hill_mean_grid, hill_mean_paths), T_E, False, hill_potential, hill_levels, cb3[3])

captions = [
    ("(a) Neural SDE", 258, 300), ("(b) Potential-free $(U\\ =\\ 0)$", 752, 300),
    ("(c) Box-shaped obstacle", 252, 610), ("(d) Slit-shaped obstacle", 760, 610),
    ("(e) Well potential", 252, 915), ("(f) Hill potential", 760, 915),
]
for text, cx, cy in captions:
    fig.text(cx / W, 1 - cy / H, text, ha="center", va="center", fontsize=18,
             family="Liberation Serif", math_fontfamily="cm")

fig.savefig("out.png", dpi=100)
